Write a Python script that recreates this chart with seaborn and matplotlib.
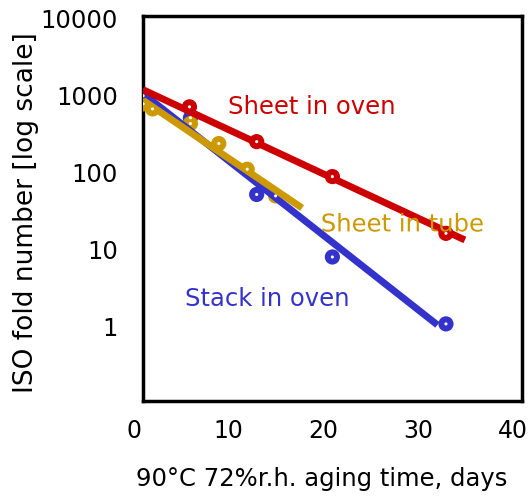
import numpy as np
import pandas as pd
import matplotlib
matplotlib.use("Agg")
import matplotlib.pyplot as plt
import matplotlib.patheffects as pe
import matplotlib.transforms as mtransforms
import seaborn as sns

# ---- data ----
oven_days = [4.9, 12.0, 20.0, 32.0]
oven_fold = [660, 233, 82, 15]
tube_days = [0.0, 1.0, 5.0, 8.0, 11.0, 14.0]
tube_fold = [720, 620, 400, 220, 102, 46]
stack_days = [0.0, 5.0, 12.0, 20.0, 32.0]
stack_fold = [920, 475, 48, 7.4, 1.0]

# trend lines (end points)
oven_fit_days = [0.0, 34.0]
oven_fit_fold = [1100, 12.3]
tube_fit_days = [0.0, 16.8]
tube_fit_fold = [800, 32]
stack_fit_days = [0.0, 31.1]
stack_fit_fold = [980, 0.97]

colors = {"Sheet in oven": "#CC0000", "Sheet in tube": "#CC9900", "Stack in oven": "#3333CC"}

x_ticks = [0, 10, 20, 30, 40]
y_ticks = [1, 10, 100, 1000, 10000]
y_tick_labels = ["1", "10", "100", "1000", "10000"]

pts = pd.concat([
    pd.DataFrame({"days": oven_days, "fold": oven_fold, "series": "Sheet in oven"}),
    pd.DataFrame({"days": tube_days, "fold": tube_fold, "series": "Sheet in tube"}),
    pd.DataFrame({"days": stack_days, "fold": stack_fold, "series": "Stack in oven"}),
], ignore_index=True)
fits = pd.concat([
    pd.DataFrame({"days": stack_fit_days, "fold": stack_fit_fold, "series": "Stack in oven"}),
    pd.DataFrame({"days": oven_fit_days, "fold": oven_fit_fold, "series": "Sheet in oven"}),
    pd.DataFrame({"days": tube_fit_days, "fold": tube_fit_fold, "series": "Sheet in tube"}),
], ignore_index=True)

sns.set_style("white")
plt.rcParams["font.family"] = ["DejaVu Sans"]
plt.rcParams["text.color"] = "black"
plt.rcParams["axes.labelcolor"] = "black"

fig, ax = plt.subplots(figsize=(5.28, 4.98), dpi=100)
fig.subplots_adjust(left=0.271, right=0.988, top=0.968, bottom=0.195)

ax.set_yscale("log")

for name in ["Stack in oven", "Sheet in oven", "Sheet in tube"]:
    sub = pts[pts.series == name]
    sns.scatterplot(data=sub, x="days", y="fold", color=colors[name], s=120,
                    edgecolor="none", ax=ax, zorder=3, legend=False)
    sns.lineplot(data=fits[fits.series == name], x="days", y="fold", color=colors[name],
                 lw=5, ax=ax, zorder=4, legend=False, solid_capstyle="butt")
    sns.scatterplot(data=sub, x="days", y="fold", color="white", s=5,
                    edgecolor="none", ax=ax, zorder=5, legend=False)

ax.set_xlim(0, 40)
ax.set_ylim(0.1, 10000)
ax.set_xticks(x_ticks)
ax.set_yticks(y_ticks)
ax.set_yticklabels(y_tick_labels)
ax.minorticks_off()
ax.tick_params(axis="both", direction="in", length=7, width=2, labelsize=17.5,
               colors="black")
ax.tick_params(axis="x", labelsize=17)
ax.tick_params(axis="y", pad=18)
ax.tick_params(axis="x", pad=13)
for s in ax.spines.values():
    s.set_color("black")
    s.set_linewidth(2.5)

# shift x tick labels slightly left, y tick labels slightly down (as in reference)
xoff = mtransforms.ScaledTranslation(-9 / 100, 0, fig.dpi_scale_trans)
for lab in ax.get_xticklabels():
    lab.set_transform(lab.get_transform() + xoff)
yoff = mtransforms.ScaledTranslation(0, -3 / 100, fig.dpi_scale_trans)
for lab in ax.get_yticklabels():
    lab.set_transform(lab.get_transform() + yoff)

ax.set_xlabel("90°C 72%r.h. aging time, days", fontsize=17.5, color="black")
ax.xaxis.set_label_coords(0.471, -0.173)
ax.set_ylabel("ISO fold number [log scale]", fontsize=19, color="black")
ax.yaxis.set_label_coords(-0.276, 0.49)

ax.text(17.8, 650, "Sheet in oven", color=colors["Sheet in oven"], fontsize=17.5,
        ha="center", va="center", zorder=6)
ax.text(27.4, 19.6, "Sheet in tube", color=colors["Sheet in tube"], fontsize=17.5,
        ha="center", va="center", zorder=6,
        path_effects=[pe.SimpleLineShadow(offset=(1, -1), shadow_color="#999999", alpha=0.5),
                      pe.Normal()])
ax.text(13.1, 2.1, "Stack in oven", color=colors["Stack in oven"], fontsize=17.5,
        ha="center", va="center", zorder=6)

fig.savefig("out.png", dpi=100)
